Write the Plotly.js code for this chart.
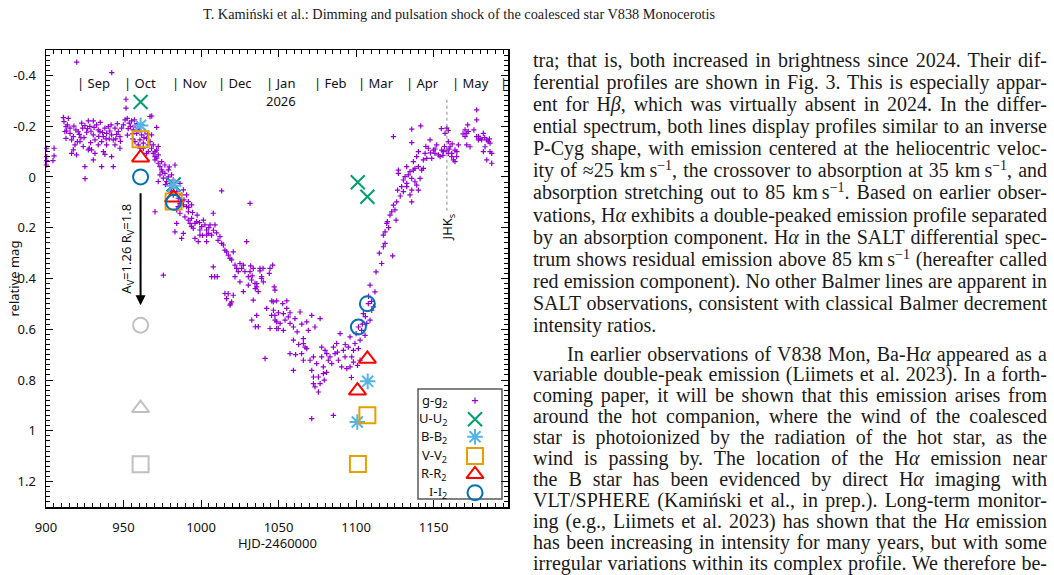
<!DOCTYPE html>
<html>
<head>
<meta charset="utf-8">
<script src="https://cdn.plot.ly/plotly-3.0.1.min.js"></script>
<style>
  html, body { margin: 0; padding: 0; background: #fff; }
  #page { position: relative; width: 1054px; height: 575px; overflow: hidden; background: #fff; }
  #chart { position: absolute; left: 0; top: 0; width: 1054px; height: 575px; }
  .serif { font-family: "Liberation Serif", "Times New Roman", serif; color: #1a1a1a; }
  #runhead { position: absolute; left: 203px; top: 5px; font-size: 14.3px; line-height: 18px; white-space: nowrap; }
  .ln { position: absolute; font-size: 20px; line-height: 20px; white-space: nowrap;
        text-align: justify; text-align-last: justify; transform-origin: 0 50%; }
  .ln.last { text-align: left; text-align-last: left; }
  .ln sup { font-size: 14px; line-height: 0; vertical-align: 7px; }
</style>
</head>
<body>
<div id="page">
  <div id="chart"></div>
  <div id="runhead" class="serif">T. Kamiński et al.: Dimming and pulsation shock of the coalesced star V838 Monocerotis</div>
  <div id="body"></div>
</div>
<script>
// ---- month markers along the top of the light curve (HJD-2460000 of the 1st day) ----
const monthStarts = [919.5, 949.5, 980.5, 1010.5, 1041.5, 1072.5, 1100.5, 1131.5, 1161.5, 1192.5];
const monthNames  = ['Sep', 'Oct', 'Nov', 'Dec', 'Jan', 'Feb', 'Mar', 'Apr', 'May', ''];
const yearLabel = '2026';

// ---- axis ticks ----
const xTicks = [900, 950, 1000, 1050, 1100, 1150];
const yTicks = [-0.4, -0.2, 0, 0.2, 0.4, 0.6, 0.8, 1.0, 1.2];
const yTickText = ['-0.4', '-0.2', '0', '0.2', '0.4', '0.6', '0.8', '1', '1.2'];

// ---- g-band differential photometry: [HJD-2460000, g-g2] ----
const gObs = [
  [900.4,-0.113],[905.2,-0.113],[900.4,-0.080],[905.2,-0.083],[900.4,-0.064],[904.5,-0.064],[900.2,-0.047],
  [911.2,-0.234],[914.4,-0.231],[911.6,-0.218],[912.9,-0.198],[913.3,-0.181],[915.5,-0.172],[912.9,-0.152],
  [916.5,-0.146],[917.6,-0.159],[921.5,-0.168],[923.6,-0.192],[926.2,-0.176],[927.3,-0.221],[928.3,-0.199],
  [920.2,-0.139],[924.0,-0.120],[927.3,-0.107],[930.5,-0.221],[930.5,-0.166],[931.6,-0.146],[927.9,-0.113],
  [934.8,-0.179],[937.0,-0.159],[935.9,-0.139],[940.2,-0.198],[941.2,-0.181],[942.3,-0.166],[943.4,-0.146],
  [939.1,-0.126],[938.0,-0.089],[942.3,-0.080],[935.9,-0.041],[925.1,-0.041],[925.2,0.007],[930.5,-0.067],
  [929.4,-0.107],[943.4,-0.041],[946.6,-0.179],[947.7,-0.159],[948.8,-0.192],[919.3,-0.185],[923.0,-0.212],
  [925.1,-0.202],[932.6,-0.205],[933.7,-0.185],[938.0,-0.192],[939.1,-0.172],[944.5,-0.192],[945.6,-0.168],
  [949.9,-0.205],[921.9,-0.139],[918.7,-0.126],[933.7,-0.126],[944.5,-0.126],[937.0,-0.100],[947.7,-0.113],
  [919.7,-0.087],[931.6,-0.093],[917.6,-0.107],[916.5,-0.093],[912.2,-0.179],[915.5,-0.192],
  [913.8,-0.205],[918.0,-0.200],[920.8,-0.178],[922.5,-0.155],[926.8,-0.190],[929.0,-0.180],[931.0,-0.195],
  [934.0,-0.160],[936.5,-0.175],[940.8,-0.150],[942.0,-0.205],[945.0,-0.150],[946.0,-0.210],[948.0,-0.140],
  [924.5,-0.155],[928.8,-0.135],[935.0,-0.215],[938.8,-0.150],
  [919.8,-0.452],[942.4,-0.411],[951.6,-0.306],[951.6,-0.271],
  [951.0,-0.225],[952.4,-0.231],[953.7,-0.212],[955.2,-0.221],[954.6,-0.198],[956.3,-0.185],[957.4,-0.202],
  [958.5,-0.172],[959.5,-0.192],[960.6,-0.146],[961.7,-0.166],[962.8,-0.133],[963.8,-0.179],[964.9,-0.152],
  [966.0,-0.126],[967.1,-0.139],[968.1,-0.113],[968.1,-0.166],[966.0,-0.100],[967.1,-0.238],[971.4,-0.195],
  [969.2,-0.126],[964.9,-0.093],[962.8,-0.113],[959.5,-0.126],[957.4,-0.139],[960.6,-0.113],[970.3,-0.100],
  [972.4,-0.087],[972.4,-0.120],[971.4,-0.074],[974.6,-0.060],[976.7,-0.047],[978.9,-0.028],[981.0,-0.008],
  [982.1,0.012],[978.9,0.000],[986.4,0.025],[988.6,0.051],[990.7,0.071],[987.5,0.071],[985.3,0.084],
  [991.8,0.097],[993.9,0.110],[986.4,0.104],[982.1,0.071],[968.2,-0.240],
  [953.0,-0.190],[955.8,-0.170],[957.0,-0.225],[958.8,-0.210],[960.0,-0.185],[962.0,-0.205],[963.2,-0.155],
  [965.5,-0.170],[952.5,-0.165],[956.0,-0.150],
  [969.2,-0.093],[970.3,-0.080],[971.4,-0.106],[970.3,-0.067],[972.4,-0.054],[973.5,-0.041],[974.6,-0.028],
  [973.5,-0.008],[976.7,-0.014],[975.7,0.005],[977.8,0.018],[980.0,0.025],[983.2,-0.047],[972.4,0.018],
  [981.0,0.045],[984.3,0.058],[970.3,0.137],[984.3,0.130],[985.3,0.117],[986.4,0.143],[988.6,0.110],
  [990.7,0.117],[991.8,0.137],[989.6,0.157],[991.8,0.170],[993.9,0.163],[996.1,0.183],[992.9,0.183],
  [993.9,0.196],[995.0,0.202],[997.2,0.176],[999.3,0.209],[1000.4,0.196],[1001.5,0.170],[1002.5,0.189],
  [1003.6,0.209],[1004.7,0.222],[1005.8,0.189],[1006.8,0.229],[1007.9,0.143],[1009.0,0.189],[984.3,0.183],
  [983.2,0.216],[987.5,0.242],[988.6,0.222],[996.1,0.242],[998.2,0.255],[999.3,0.229],[1003.6,0.255],
  [1003.6,0.229],[975.7,0.387],[1012.2,0.235],[1013.3,0.262],[1014.4,0.268],[1015.4,0.288],[1016.5,0.295],
  [1017.6,0.308],[1018.7,0.321],[1019.7,0.327],[1020.8,0.295],[1021.9,0.347],[1023.0,0.360],[1024.0,0.373],
  [1025.1,0.341],[1026.2,0.360],[1027.3,0.347],[1028.3,0.373],[1029.4,0.255],[1030.5,0.393],[1031.6,0.373],
  [1032.6,0.406],[1033.7,0.360],[1034.8,0.419],[1035.9,0.433],[1036.9,0.452],[1038.0,0.360],[1039.1,0.393],
  [1040.2,0.413],[1006.8,0.393],[1007.9,0.354],[1015.4,0.459],[1016.5,0.479],[1018.7,0.505],[1019.7,0.492],
  [1020.8,0.466],[1013.3,0.055],[1031.6,0.104],[1044.5,0.360],[1046.6,0.492],[1045.5,0.545],[1047.7,0.545],
  [1048.8,0.571],[1049.8,0.597],[1044.5,0.597],[1042.3,0.518],[1035.9,0.545],[1036.9,0.590],[1033.7,0.485],
  [1027.3,0.452],[1030.5,0.426],[1025.1,0.413],[1021.9,0.393],
  [1008.8,0.393],[1010.5,0.393],[1017.5,0.460],[1019.0,0.500],[1032.0,0.350],[1038.0,0.370],[1040.0,0.360],
  [1033.0,0.390],[1036.0,0.420],[1035.0,0.440],[1039.0,0.400],[1044.0,0.380],[1032.7,0.564],[1035.0,0.590],
  [1041.3,0.715],
  [997.5,0.150],[999.0,0.180],[1001.0,0.230],[1005.0,0.200],[1008.0,0.210],[1010.0,0.220],[1011.0,0.250],
  [994.5,0.140],[989.0,0.090],[992.0,0.120],[980.5,0.060],[977.0,0.030],[975.0,-0.020],[979.5,-0.040],
  [1046.2,0.347],[1047.2,0.433],[1047.7,0.446],[1045.6,0.488],[1048.8,0.488],[1052.7,0.499],[1055.3,0.488],
  [1046.7,0.525],[1049.9,0.535],[1053.1,0.538],[1056.3,0.551],[1047.7,0.564],[1051.0,0.577],[1054.2,0.564],
  [1057.4,0.577],[1059.6,0.591],[1048.8,0.597],[1060.6,0.558],[1053.1,0.604],[1063.9,0.532],[1057.4,0.535],
  [1055.3,0.518],[1071.4,0.545],[1076.8,0.558],[1068.2,0.571],[1073.5,0.591],[1069.2,0.604],[1057.4,0.696],
  [1059.6,0.643],[1066.0,0.637],[1066.0,0.656],[1067.1,0.670],[1068.2,0.676],[1064.9,0.696],[1072.5,0.709],
  [1071.4,0.762],[1059.6,0.762],[1066.0,0.722],[1077.8,0.670],[1080.0,0.683],[1071.4,0.952],[1085.4,0.939],
  [1072.5,0.788],[1072.5,0.814],[1073.5,0.827],[1075.7,0.847],[1076.8,0.814],[1075.7,0.788],[1078.9,0.748],
  [1077.8,0.709],[1081.1,0.696],[1083.2,0.709],[1085.4,0.670],[1087.5,0.656],[1089.7,0.617],[1088.6,0.722],
  [1090.7,0.748],[1091.8,0.683],[1094.0,0.755],[1096.1,0.748],[1097.2,0.709],[1098.3,0.683],[1096.1,0.630],
  [1099.3,0.656],[1101.5,0.676],[1102.6,0.643],[1103.6,0.604],[1101.5,0.591],[1105.8,0.624],[1106.9,0.577],
  [1109.0,0.564],[1110.1,0.525],[1111.2,0.512],[1112.2,0.453],[1109.0,0.426],[1107.9,0.499],[1104.7,0.538],
  [1084.3,0.735],[1082.1,0.722],[1078.9,0.775],[1074.6,0.735],[1070.3,0.722],[1086.4,0.696],[1092.9,0.709],
  [1095.0,0.670],[1100.0,0.617],[1098.3,0.729],[1100.9,0.742],[1102.6,0.722],
  [1062.0,0.610],[1063.0,0.660],[1065.0,0.580],[1061.0,0.700],[1079.5,0.800],[1081.0,0.770],[1088.0,0.690],
  [1093.0,0.660],[1097.0,0.790],[1104.0,0.580],[1106.0,0.550],[1108.0,0.470],[1110.0,0.490],
  [1112.9,0.374],[1116.5,0.341],[1117.6,0.275],[1118.7,0.262],[1117.6,0.229],[1118.7,0.216],[1119.8,0.183],
  [1120.2,0.176],[1121.9,0.150],[1123.0,0.137],[1125.1,0.130],[1124.1,0.111],[1125.8,0.170],[1126.2,0.098],
  [1123.6,0.311],[1126.8,0.052],[1127.3,-0.014],[1129.4,0.038],[1130.5,0.012],[1132.7,0.025],[1131.6,-0.001],
  [1133.7,-0.008],[1134.8,-0.021],[1135.9,0.006],[1137.0,-0.027],[1138.0,-0.034],[1139.1,0.032],[1140.2,0.052],
  [1135.9,0.052],[1134.8,0.071],[1135.9,0.098],[1130.5,0.058],[1138.0,0.019],[1141.3,0.006],[1142.3,-0.027],
  [1143.4,-0.034],[1132.7,0.038],[1127.3,-0.027],
  [1124.1,-0.159],[1135.9,-0.188],[1141.7,-0.201],[1135.9,-0.135],[1140.2,-0.100],[1139.1,-0.080],[1143.4,-0.067],
  [1144.5,-0.093],[1146.6,-0.113],[1147.7,-0.146],[1148.8,-0.073],[1149.9,-0.106],[1152.0,-0.126],[1154.2,-0.080],
  [1156.3,-0.100],[1157.4,-0.172],[1159.5,-0.139],[1160.6,-0.119],[1161.7,-0.093],[1162.8,-0.067],[1163.8,-0.106],
  [1164.9,-0.080],[1166.0,-0.126],[1158.5,-0.192],[1170.3,-0.185],[1171.4,-0.172],[1172.4,-0.179],[1171.4,-0.126],
  [1177.8,-0.264],[1177.8,-0.225],[1177.8,-0.159],[1178.9,-0.146],[1180.0,-0.152],[1181.0,-0.146],[1182.1,-0.172],
  [1183.2,-0.119],[1184.3,-0.146],[1185.3,-0.139],[1186.4,-0.100],[1187.5,-0.093],[1186.4,-0.133],[1182.1,-0.100],
  [1184.3,-0.067],[1187.5,-0.054],[1155.2,-0.106],[1153.1,-0.087],[1145.6,-0.073],[1150.9,-0.093],[1161.7,-0.080],
  [1163.8,-0.060],[1158.5,-0.106],[1173.5,-0.119],[1170.3,-0.159],[1159.5,-0.093],[1137.0,-0.060],[1132.7,-0.041],
  [1140.2,-0.041],[1155.0,-0.190],[1159.5,-0.183],
  [1145.0,-0.120],[1151.0,-0.110],[1157.0,-0.120],[1160.0,-0.110],[1162.0,-0.130],[1165.0,-0.100],[1156.0,-0.085],
  [1148.0,-0.095],[1179.0,-0.160],[1183.0,-0.155],[1186.0,-0.150],[1176.0,-0.185],[1172.0,-0.205],[1169.0,-0.170],
  [1128.5,0.075],[1121.0,0.200],[1115.0,0.300]
];
const gHjd = gObs.map(p => p[0]);
const gMag = gObs.map(p => p[1]);

// ---- multi-band differential photometry ----
const uHjd = [961.0, 982.3, 1101.1, 1107.3];
const uMag = [-0.295, 0.030, 0.021, 0.078];
const bHjd = [961.0, 982.3, 1100.8, 1107.5];
const bMag = [-0.203, 0.035, 0.965, 0.805];
const vHjd = [961.0, 982.3, 1101.2, 1107.3];
const vMag = [-0.148, 0.097, 1.131, 0.939];
const rHjd = [961.0, 982.3, 1100.9, 1107.3];
const rMag = [-0.076, 0.082, 0.842, 0.717];
const iHjd = [961.0, 982.3, 1101.5, 1107.3];
const iMag = [0.000, 0.100, 0.591, 0.499];

// first epoch shifted by the extinction vector (I, R, V)
const shiftedHjd = 961.0;
const shiftedMag = { I: 0.584, R: 0.911, V: 1.132 };

// extinction arrow and infrared epoch
const extinctionArrow = { hjd: 961.0, from: 0.058, to: 0.505 };
const extinctionLabel = 'A<sub>V</sub>=1.26 R<sub>V</sub>=1.8';
const jhkEpoch = 1158.6;

// ---- legend entries ----
const legendLabels = ['g-g<sub>2</sub>', 'U-U<sub>2</sub>', 'B-B<sub>2</sub>', 'V-V<sub>2</sub>', 'R-R<sub>2</sub>',
  '<span style="font-family:Liberation Serif">I-I</span><sub>2</sub>'];

// ---- styles ----
const C = { g: '#9400d3', U: '#009e73', B: '#56b4e9', V: '#e69f00', R: '#ff0000', I: '#0072b2', grey: '#c0c0c0' };
const SANS = 'Noto Sans, Open Sans, sans-serif';
const styles = {
  g: { symbol: 'cross-thin', size: 3.8, lw: 1.2, color: C.g },
  U: { symbol: 'x-thin', size: 14, lw: 2, color: C.U },
  B: { symbol: 'asterisk', size: 13, lw: 2, color: C.B },
  V: { symbol: 'square-open', size: 16, lw: 2, color: C.V },
  R: { symbol: 'triangle-up-open', size: 15, lw: 2, color: C.R },
  I: { symbol: 'circle-open', size: 15, lw: 2, color: C.I }
};
function mk(st, color) {
  const c = color || st.color;
  return { symbol: st.symbol, size: st.size, color: c, line: { color: c, width: st.lw } };
}
function pts(x, y, st, color, axes) {
  const t = { type: 'scatter', mode: 'markers', x: x, y: y, marker: mk(st, color), hoverinfo: 'skip', cliponaxis: false };
  if (axes) { t.xaxis = 'x2'; t.yaxis = 'y2'; }
  return t;
}

const traces = [
  pts(gHjd, gMag, styles.g),
  pts([shiftedHjd], [shiftedMag.I], styles.I, C.grey),
  pts([shiftedHjd], [shiftedMag.R], styles.R, C.grey),
  pts([shiftedHjd], [shiftedMag.V], styles.V, C.grey),
  pts(uHjd, uMag, styles.U),
  pts(bHjd, bMag, styles.B),
  pts(vHjd, vMag, styles.V),
  pts(rHjd, rMag, styles.R),
  pts(iHjd, iMag, styles.I)
];

// legend keys drawn on a hidden unit overlay
const keyRows = [0.2326, 0.1919, 0.1538, 0.1116, 0.0716, 0.0313];
['g', 'U', 'B', 'V', 'R', 'I'].forEach((k, i) => {
  const st = k === 'g' ? Object.assign({}, styles.g, { size: 4.5 }) : styles[k];
  traces.push(pts([0.9286], [keyRows[i]], st, null, true));
});

const font13 = { family: SANS, size: 13, color: '#111' };
const annotations = [];
monthNames.forEach((m, i) => {
  annotations.push({ x: monthStarts[i], y: -0.371, xref: 'x', yref: 'y', xanchor: 'left', yanchor: 'middle',
    text: m ? '| ' + m : '|', showarrow: false, font: font13, borderpad: 0 });
});
annotations.push({ x: monthStarts[4], y: -0.30, xref: 'x', yref: 'y', xanchor: 'left', yanchor: 'middle',
  text: yearLabel, showarrow: false, font: font13, borderpad: 0 });
// extinction arrow
annotations.push({ x: extinctionArrow.hjd, y: extinctionArrow.to, ax: extinctionArrow.hjd, ay: extinctionArrow.from,
  xref: 'x', yref: 'y', axref: 'x', ayref: 'y', text: '', showarrow: true, arrowhead: 2, arrowsize: 1,
  arrowwidth: 2, arrowcolor: '#000' });
annotations.push({ x: 952.5, y: 0.281, xref: 'x', yref: 'y', text: extinctionLabel, textangle: -90,
  showarrow: false, font: font13 });
annotations.push({ x: jhkEpoch + 0.5, y: 0.200, xref: 'x', yref: 'y', text: 'JHK<sub>s</sub>', textangle: -90,
  showarrow: false, font: font13 });
// axis titles
annotations.push({ x: 0.5, y: -0.0785, xref: 'paper', yref: 'paper', text: 'HJD-2460000', showarrow: false,
  xanchor: 'center', yanchor: 'middle', font: font13, borderpad: 0 });
annotations.push({ x: -0.0714, y: 0.5, xref: 'paper', yref: 'paper', text: 'relative mag', textangle: -90,
  showarrow: false, xanchor: 'center', yanchor: 'middle', font: font13 });
// legend labels
legendLabels.forEach((lab, i) => {
  annotations.push({ x: 0.8701, y: keyRows[i], xref: 'paper', yref: 'paper', xanchor: 'right', yanchor: 'middle',
    text: lab, showarrow: false, font: font13, borderpad: 0 });
});

const shapes = [
  { type: 'line', xref: 'x', yref: 'y', x0: jhkEpoch, x1: jhkEpoch, y0: -0.304, y1: 0.137,
    line: { color: '#8c8c8c', width: 1, dash: 'dot' } },
  { type: 'rect', xref: 'paper', yref: 'paper', x0: 0.8052, x1: 0.987, y0: 0.0175, y1: 0.2582,
    line: { color: '#5a5a5a', width: 1.5 }, fillcolor: '#ffffff', layer: 'below' }
];

const axisCommon = {
  showline: true, linecolor: '#000', linewidth: 1.5, mirror: 'allticks',
  ticks: 'inside', ticklen: 7, tickwidth: 1, tickcolor: '#000',
  showgrid: false, zeroline: false, tickfont: font13
};

const layout = {
  width: 1054, height: 575,
  margin: { l: 46, r: 546, t: 50, b: 68, pad: 0 },
  paper_bgcolor: 'rgba(0,0,0,0)', plot_bgcolor: 'rgba(0,0,0,0)',
  showlegend: false,
  xaxis: Object.assign({}, axisCommon, {
    range: [900, 1198], tickmode: 'array', tickvals: xTicks, ticktext: xTicks.map(String),
    ticklabelstandoff: 8,
    minor: { tickmode: 'linear', tick0: 900, dtick: 5, ticks: 'inside', ticklen: 4, tickcolor: '#000', tickwidth: 1, showgrid: false }
  }),
  yaxis: Object.assign({}, axisCommon, {
    range: [1.3, -0.5], tickmode: 'array', tickvals: yTicks, ticktext: yTickText,
    ticklabelstandoff: 6,
    minor: { tickmode: 'linear', tick0: 0, dtick: 0.02, ticks: 'inside', ticklen: 4, tickcolor: '#000', tickwidth: 1, showgrid: false }
  }),
  xaxis2: { overlaying: 'x', anchor: 'y2', range: [0, 1], visible: false, fixedrange: true },
  yaxis2: { overlaying: 'y', anchor: 'x2', range: [0, 1], visible: false, fixedrange: true },
  annotations: annotations,
  shapes: shapes
};

Plotly.newPlot('chart', traces, layout, { displayModeBar: false, staticPlot: true });

// ---- running text beside the figure ----
const para1 = [
  'tra; that is, both increased in brightness since 2024. Their dif-',
  'ferential profiles are shown in Fig. 3. This is especially appar-',
  'ent for H<i>β</i>, which was virtually absent in 2024. In the differ-',
  'ential spectrum, both lines display profiles similar to an inverse',
  'P-Cyg shape, with emission centered at the heliocentric veloc-',
  'ity of ≈25 km&#8201;s<sup>−1</sup>, the crossover to absorption at 35 km&#8201;s<sup>−1</sup>, and',
  'absorption stretching out to 85 km&#8201;s<sup>−1</sup>. Based on earlier obser-',
  'vations, H<i>α</i> exhibits a double-peaked emission profile separated',
  'by an absorption component. H<i>α</i> in the SALT differential spec-',
  'trum shows residual emission above 85 km&#8201;s<sup>−1</sup> (hereafter called',
  'red emission component). No other Balmer lines are apparent in',
  'SALT observations, consistent with classical Balmer decrement',
  'intensity ratios.'
];
const para2 = [
  'In earlier observations of V838 Mon, Ba-H<i>α</i> appeared as a',
  'variable double-peak emission (Liimets et al. 2023). In a forth-',
  'coming paper, it will be shown that this emission arises from',
  'around the hot companion, where the wind of the coalesced',
  'star is photoionized by the radiation of the hot star, as the',
  'wind is passing by. The location of the H<i>α</i> emission near',
  'the B star has been evidenced by direct H<i>α</i> imaging with',
  'VLT/SPHERE (Kamiński et al., in prep.). Long-term monitor-',
  'ing (e.g., Liimets et al. 2023) has shown that the H<i>α</i> emission',
  'has been increasing in intensity for many years, but with some',
  'irregular variations within its complex profile. We therefore be-'
];
const bodyEl = document.getElementById('body');
function addLine(html, left, width, centerY, isLast) {
  const d = document.createElement('div');
  d.className = 'ln serif' + (isLast ? ' last' : '');
  d.style.left = left + 'px';
  d.style.width = width + 'px';
  d.style.top = (centerY - 12) + 'px';
  d.innerHTML = html;
  bodyEl.appendChild(d);
  // squeeze a line slightly if its natural width exceeds the column
  if (d.scrollWidth > width + 0.5) d.style.transform = 'scaleX(' + (width / d.scrollWidth) + ')';
}
const textLeft = 533, textRight = 1047, indent = 34;
para1.forEach((l, i) => addLine(l, textLeft, textRight - textLeft, 62 + i * 22.08, i === para1.length - 1));
para2.forEach((l, i) => addLine(l, textLeft + (i === 0 ? indent : 0), textRight - textLeft - (i === 0 ? indent : 0),
  355.5 + i * 20.9, false));
</script>
</body>
</html>
